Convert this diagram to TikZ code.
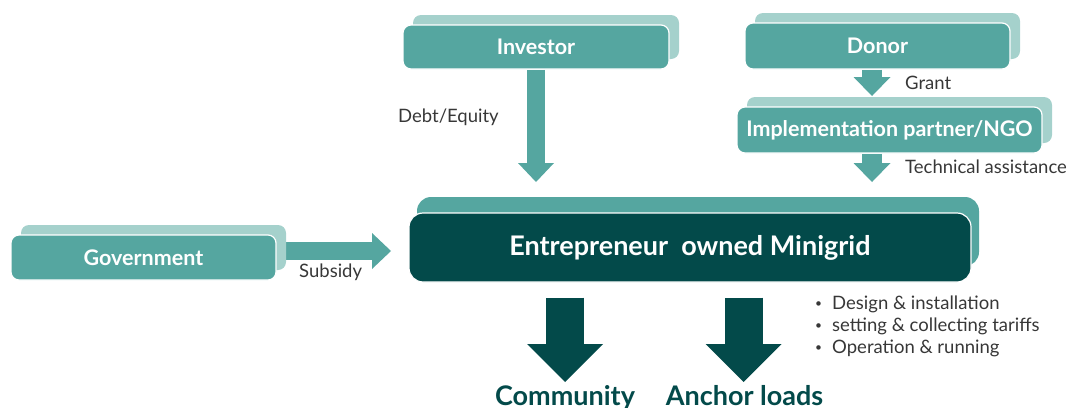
\documentclass[tikz,border=0pt]{standalone}
\usepackage{fontspec}
\setmainfont{Lato}
\usetikzlibrary{arrows.meta,shadows,backgrounds}

\definecolor{tealmid}{RGB}{85,166,160}
\definecolor{tealpale}{RGB}{165,209,204}
\definecolor{tealdark}{RGB}{3,74,74}
\definecolor{labelgrey}{RGB}{55,55,55}

\tikzset{
  partybox/.style={draw=white, line width=1.2pt, fill=tealmid, rounded corners=8pt,
    text=white, font=\bfseries\fontsize{21.5}{24}\selectfont, inner sep=0pt,
    copy shadow={shadow xshift=10pt, shadow yshift=10pt, fill=tealpale, draw=none}},
  minibox/.style={draw=white, line width=1.2pt, fill=tealdark, rounded corners=14pt,
    text=white, font=\bfseries\fontsize{27}{30}\selectfont, inner sep=0pt,
    copy shadow={shadow xshift=8pt, shadow yshift=16pt, fill=tealmid, draw=none}},
  flowarrow/.style={tealmid, line width=18pt, -{Triangle[width=36pt,length=19pt,line width=0pt]}},
  smallarrow/.style={tealmid, line width=20pt, -{Triangle[width=37pt,length=19pt,line width=0pt]}},
  bigarrow/.style={tealdark, line width=38pt, -{Triangle[width=76pt,length=38pt,line width=0pt]}},
  flowlabel/.style={text=labelgrey, font=\fontsize{18.5}{22}\selectfont, inner sep=0pt},
  outlabel/.style={text=tealdark, font=\bfseries\fontsize{27}{30}\selectfont, inner sep=0pt}
}
\newcommand{\taskdot}{\makebox[17pt][l]{\raisebox{1.5pt}{\fontsize{12}{12}\selectfont •}}}

\begin{document}
\begin{tikzpicture}[x=1pt,y=1pt,yscale=-1]
\useasboundingbox (0,0) rectangle (1068,407);

%Parties
\node[partybox, minimum width=266pt, minimum height=44pt] (inv) at (536,47) {Investor};
\node[partybox, minimum width=265pt, minimum height=46pt] (don) at (877.5,46) {Donor};
\node[partybox, minimum width=305pt, minimum height=46pt] (ngo) at (889.5,130) {Implementation partner/NGO};
\node[partybox, minimum width=265pt, minimum height=45pt] (gov) at (143.5,257.5) {Government};
\node[minibox, minimum width=562pt, minimum height=69pt] (mini) at (690,247.5) {Entrepreneur\ \ owned Minigrid};

%Arrow ends
\coordinate (invtip) at (536,182);
\coordinate (granttip) at (872,96);
\coordinate (techtip) at (872,182);
\coordinate (subtip) at (391,251);
\coordinate (commtip) at (565,382);
\coordinate (anchtip) at (743.5,382);

\begin{pgfonlayer}{background}
%Block arrows
\draw[flowarrow] (invtip |- inv.south) -- (invtip);
\draw[smallarrow] (granttip |- don.south) -- (granttip);
\draw[smallarrow] (techtip |- ngo.south) -- (techtip);
\draw[flowarrow] (subtip -| gov.east) -- (subtip);
\draw[bigarrow, shorten <=15pt] (commtip |- mini.south) -- (commtip);
\draw[bigarrow, shorten <=15pt] (anchtip |- mini.south) -- (anchtip);
\end{pgfonlayer}

%Labels
\node[flowlabel, anchor=west] (debt) at (398,117) {Debt/Equity};
\node[flowlabel, anchor=west] (grant) at (905,83) {Grant};
\node[flowlabel, anchor=west] (tech) at (905,167) {Technical assistance};
\node[flowlabel, anchor=west] (sub) at (299,272) {Subsidy};
\foreach \txt [count=\i] in {Design \& installation, setting \& collecting tariffs, Operation \& running}
  \node[flowlabel, anchor=base west] (task\i) at (815,287+22*\i) {\taskdot\txt};
\node[outlabel, anchor=base] (comm) at (565,405) {Community};
\node[outlabel, anchor=base] (anch) at (744.5,405) {Anchor loads};

\end{tikzpicture}
\end{document}
